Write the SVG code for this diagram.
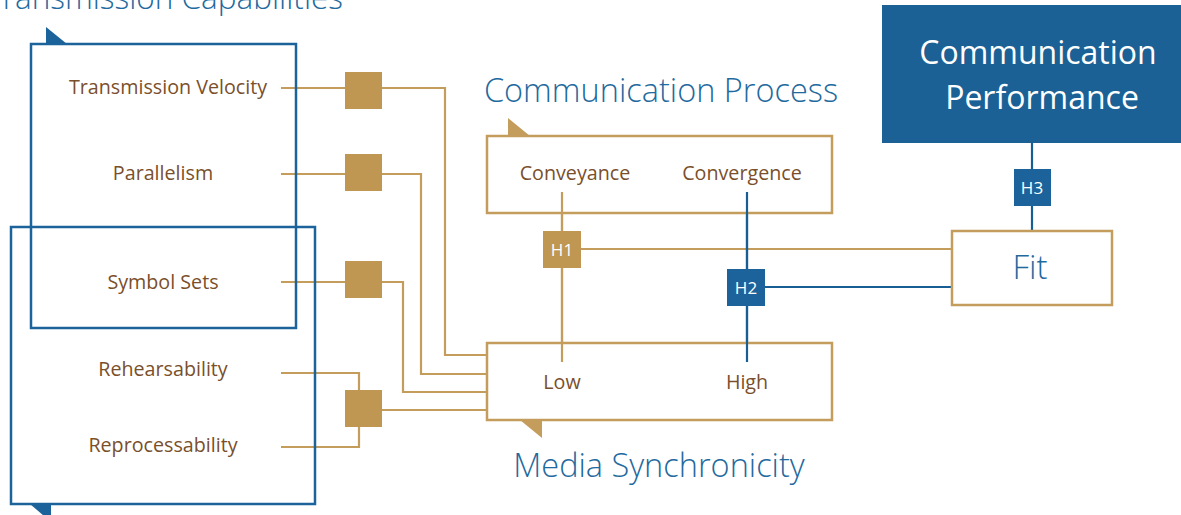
<svg xmlns="http://www.w3.org/2000/svg" width="1181" height="515" viewBox="0 0 1181 515">
  <style>
    .title { font-family: "Open Sans", "Liberation Sans", sans-serif; font-weight: 300; font-size: 32.5px; fill: #1f6a9e; }
    .item { font-family: "Open Sans", "Liberation Sans", sans-serif; font-size: 19.7px; fill: #7a4f2b; text-anchor: middle; }
    .hlabel { font-family: "Open Sans", "Liberation Sans", sans-serif; font-size: 17px; fill: #ffffff; text-anchor: middle; }
    .perf { font-family: "Open Sans", "Liberation Sans", sans-serif; font-size: 32px; fill: #ffffff; text-anchor: middle; }
    .bluebox { fill: none; stroke: #1b639a; stroke-width: 2.5; }
    .goldbox { fill: #ffffff; stroke: #c49d5c; stroke-width: 2.5; }
    .gold { fill: none; stroke: #c49d5c; stroke-width: 2.2; }
    .blue { fill: none; stroke: #175e94; stroke-width: 2.2; }
    .gsq { fill: #bf9652; }
    .bsq { fill: #1b639a; }
  </style>

  <!-- connectors -->
  <g id="connectors">
    <!-- transmission capabilities into media synchronicity -->
    <polyline class="gold" points="281,88 445,88 445,355 487,355"/>
    <polyline class="gold" points="281,174 421,174 421,374 487,374"/>
    <polyline class="gold" points="281,282 403,282 403,392 487,392"/>
    <polyline class="gold" points="281,373 359,373 359,447 281,447"/>
    <line class="gold" x1="359" y1="410" x2="487" y2="410"/>
    <!-- conveyance / low, H1 to fit -->
    <line class="gold" x1="562" y1="192" x2="562" y2="362"/>
    <line class="gold" x1="562" y1="249" x2="952" y2="249"/>
    <!-- convergence / high, H2 to fit -->
    <line class="blue" x1="747" y1="192" x2="747" y2="362"/>
    <line class="blue" x1="747" y1="287" x2="952" y2="287"/>
    <!-- fit to performance -->
    <line class="blue" x1="1032" y1="143" x2="1032" y2="231"/>
  </g>

  <!-- transmission capabilities -->
  <g id="transmission-capabilities">
    <text class="title" x="343" y="9" text-anchor="end" style="font-size: 31.5px;">Transmission Capabilities</text>
    <polygon points="46,27 46,44 67,44" fill="#1b639a"/>
    <rect class="bluebox" x="31" y="44" width="265" height="284"/>
  </g>

  <!-- symbol-related media capabilities -->
  <g id="processing-capabilities">
    <rect class="bluebox" x="11" y="227" width="304" height="277"/>
    <polygon points="30,504 51,504 51,522" fill="#1b639a"/>
  </g>

  <g id="transmission-velocity"><text class="item" x="168" y="94">Transmission Velocity</text></g>
  <g id="parallelism"><text class="item" x="163" y="180">Parallelism</text></g>
  <g id="symbol-sets"><text class="item" x="163" y="289">Symbol Sets</text></g>
  <g id="rehearsability"><text class="item" x="163" y="376">Rehearsability</text></g>
  <g id="reprocessability"><text class="item" x="163" y="452">Reprocessability</text></g>

  <!-- junction squares -->
  <g id="junction-velocity"><rect class="gsq" x="345" y="72" width="37" height="37"/></g>
  <g id="junction-parallelism"><rect class="gsq" x="345" y="154" width="37" height="37"/></g>
  <g id="junction-symbols"><rect class="gsq" x="345" y="261" width="37" height="37"/></g>
  <g id="junction-rehearse"><rect class="gsq" x="345" y="390" width="37" height="37"/></g>

  <!-- communication process -->
  <g id="communication-process">
    <text class="title" x="661" y="102" text-anchor="middle">Communication Process</text>
    <polygon points="508,118 508,136 530,136" fill="#c49d5c"/>
    <rect class="goldbox" x="487" y="136" width="345" height="77"/>
    <text class="item" x="575" y="180">Conveyance</text>
    <text class="item" x="742" y="180">Convergence</text>
  </g>

  <!-- media synchronicity -->
  <g id="media-synchronicity">
    <rect class="goldbox" x="487" y="343" width="345" height="77"/>
    <polygon points="520,420 542,420 542,438" fill="#c49d5c"/>
    <text class="item" x="562" y="389">Low</text>
    <text class="item" x="747" y="389">High</text>
    <text class="title" x="659" y="477" text-anchor="middle">Media Synchronicity</text>
  </g>

  <!-- vertical stubs drawn over the box fills -->
  <g id="stubs">
    <line class="gold" x1="562" y1="192" x2="562" y2="362"/>
    <line class="blue" x1="747" y1="192" x2="747" y2="362"/>
  </g>

  <!-- hypotheses -->
  <g id="h1"><rect class="gsq" x="543" y="231" width="38" height="37"/><text class="hlabel" x="562" y="255.5">H1</text></g>
  <g id="h2"><rect class="bsq" x="727" y="269" width="38" height="37"/><text class="hlabel" x="746" y="293.5">H2</text></g>
  <g id="h3"><rect class="bsq" x="1014" y="169" width="37" height="37"/><text class="hlabel" x="1032" y="193.5">H3</text></g>

  <!-- fit -->
  <g id="fit">
    <rect class="goldbox" x="952" y="231" width="160" height="74"/>
    <text x="1030" y="279" text-anchor="middle" style="font-family: 'Open Sans', 'Liberation Sans', sans-serif; font-weight: 300; font-size: 33px; fill: #1f6a9e;">Fit</text>
  </g>

  <!-- communication performance -->
  <g id="communication-performance">
    <rect x="882" y="5" width="300" height="138" fill="#1b6196"/>
    <text class="perf" x="1038" y="64">Communication</text>
    <text class="perf" x="1042" y="109">Performance</text>
  </g>
</svg>
